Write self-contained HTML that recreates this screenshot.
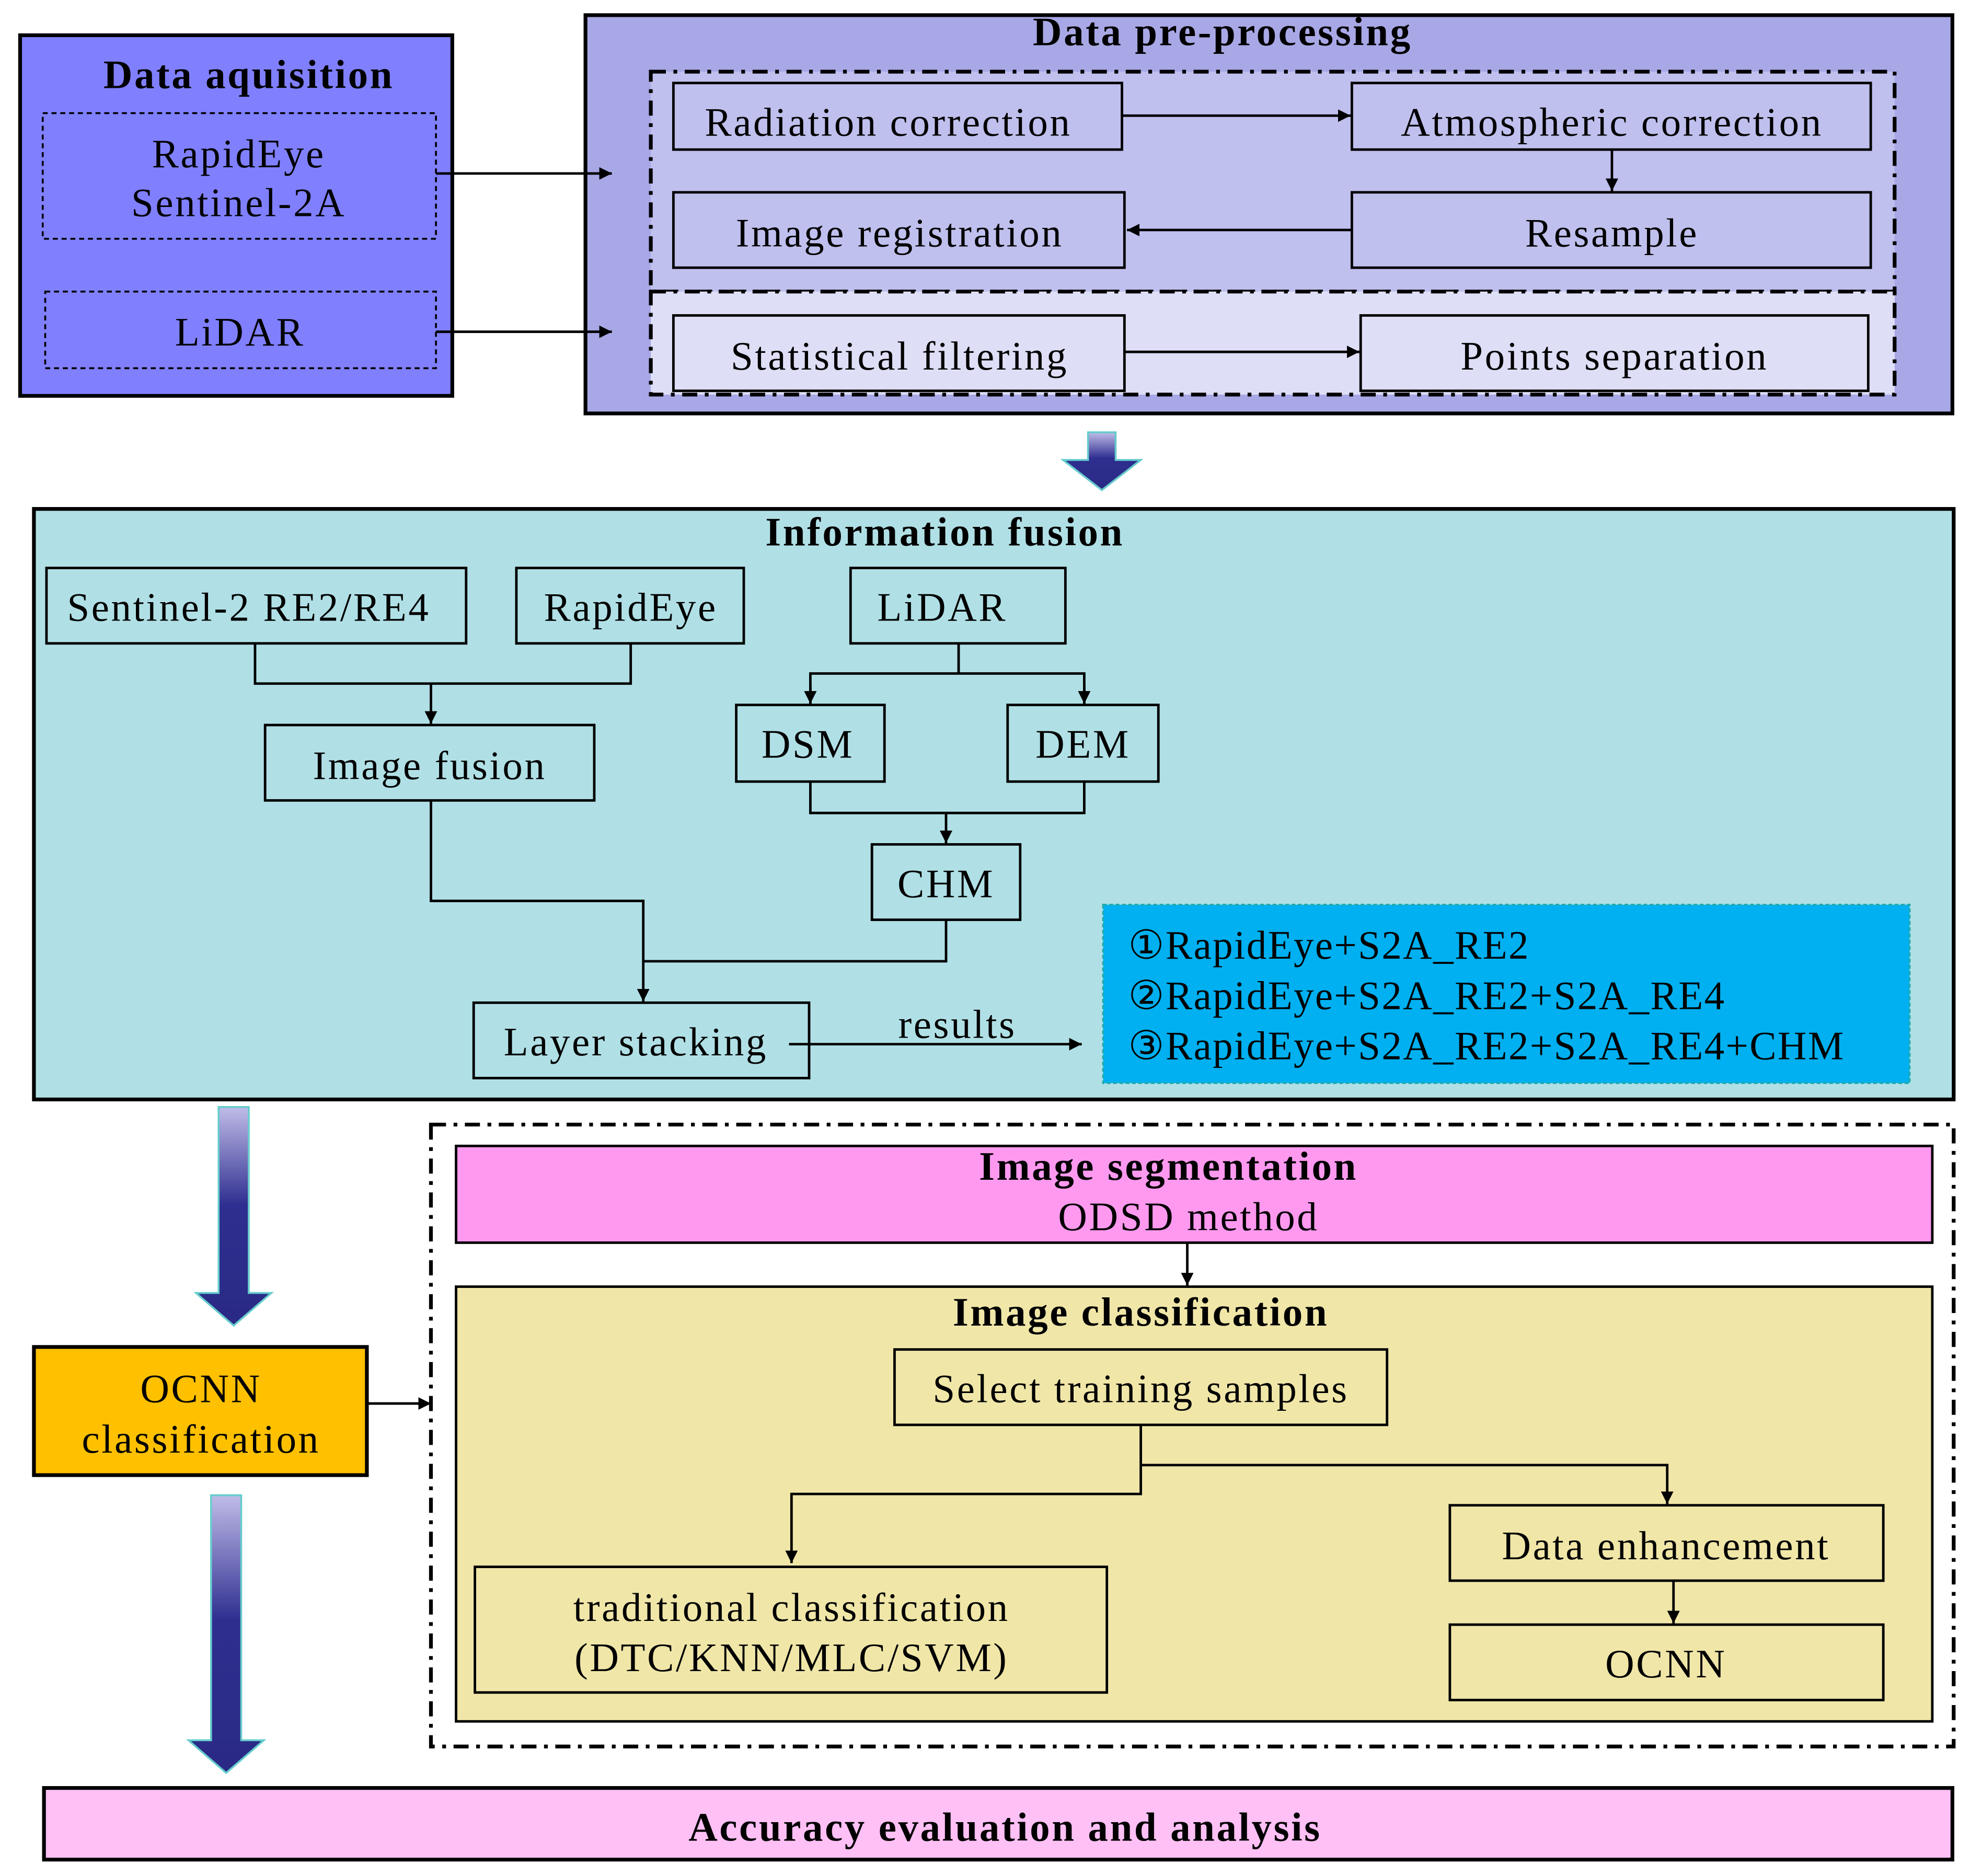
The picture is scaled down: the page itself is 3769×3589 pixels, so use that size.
<!DOCTYPE html>
<html><head><meta charset="utf-8"><style>html,body{margin:0;padding:0;background:#fff}svg{display:block}</style></head>
<body>
<svg width="3769" height="3589" viewBox="0 0 1568 1493" xmlns="http://www.w3.org/2000/svg" font-family="'Liberation Serif', serif">
<defs>
<marker id="a" viewBox="0 0 10 10" refX="10" refY="5" markerWidth="5" markerHeight="5" orient="auto"><path d="M0,0L10,5L0,10z" fill="#000"/></marker>
<linearGradient id="g" x1="0" y1="0" x2="0" y2="1"><stop offset="0" stop-color="#c0bce8"/><stop offset="0.45" stop-color="#2e2e90"/><stop offset="1" stop-color="#2a2a85"/></linearGradient>
</defs>
<g stroke="#000" stroke-width="2" fill="none">
<!-- Data acquisition -->
<rect x="16" y="28" width="344" height="287" fill="#8080ff" stroke-width="3"/>
<rect x="34" y="90" width="313" height="100" stroke-dasharray="4,3" stroke-width="1.5"/>
<rect x="36" y="232" width="311" height="61" stroke-dasharray="4,3" stroke-width="1.5"/>
<!-- Pre-processing -->
<rect x="466" y="12" width="1088" height="317" fill="#a9a8e6" stroke-width="3"/>
<rect x="518" y="57" width="990" height="175" fill="#c0c0ee" stroke-dasharray="12,6,3,6" stroke-width="3"/>
<rect x="518" y="232" width="990" height="82" fill="#dedef6" stroke-dasharray="12,6,3,6" stroke-width="3"/>
<line x1="347" y1="138" x2="487" y2="138" marker-end="url(#a)"/>
<line x1="347" y1="264" x2="487" y2="264" marker-end="url(#a)"/>
<rect x="536" y="66" width="357" height="53" fill="#c0c0ee"/>
<rect x="1076" y="66" width="413" height="53" fill="#c0c0ee"/>
<rect x="536" y="153" width="359" height="60" fill="#c0c0ee"/>
<rect x="1076" y="153" width="413" height="60" fill="#c0c0ee"/>
<rect x="536" y="251" width="359" height="60" fill="#dedef6"/>
<rect x="1083" y="251" width="404" height="60" fill="#dedef6"/>
<line x1="893" y1="92" x2="1075" y2="92" marker-end="url(#a)"/>
<line x1="1283" y1="119" x2="1283" y2="152" marker-end="url(#a)"/>
<line x1="1076" y1="183" x2="897" y2="183" marker-end="url(#a)"/>
<line x1="895" y1="280" x2="1082" y2="280" marker-end="url(#a)"/>
</g>
<path d="M866,344h22v22h20l-31,24l-31,-24h20z" fill="url(#g)" stroke="#6cc" stroke-width="1.5"/>
<g stroke="#000" stroke-width="2" fill="none">
<!-- Info fusion -->
<rect x="27" y="405" width="1528" height="470" fill="#b0e0e6" stroke-width="3"/>
<rect x="37" y="452" width="334" height="60"/>
<rect x="411" y="452" width="181" height="60"/>
<rect x="677" y="452" width="171" height="60"/>
<polyline points="203,512 203,544 502,544 502,512"/>
<line x1="343" y1="544" x2="343" y2="576" marker-end="url(#a)"/>
<rect x="211" y="577" width="262" height="60"/>
<line x1="763" y1="512" x2="763" y2="536"/>
<polyline points="645,560 645,536 863,536 863,560"/>
<line x1="645" y1="545" x2="645" y2="560" marker-end="url(#a)"/>
<line x1="863" y1="545" x2="863" y2="560" marker-end="url(#a)"/>
<rect x="586" y="561" width="118" height="61"/>
<rect x="802" y="561" width="120" height="61"/>
<polyline points="645,622 645,647 863,647 863,622"/>
<line x1="753" y1="647" x2="753" y2="671" marker-end="url(#a)"/>
<rect x="694" y="672" width="118" height="60"/>
<polyline points="343,637 343,717 512,717 512,797" marker-end="url(#a)"/>
<polyline points="753,732 753,765 512,765"/>
<rect x="377" y="798" width="267" height="60"/>
<line x1="628" y1="831" x2="861" y2="831" marker-end="url(#a)"/>
<rect x="878" y="720" width="642" height="142" fill="#00b0f0" stroke="#2aa" stroke-dasharray="3,2" stroke-width="1.5"/>
</g>
<path d="M174,881h24v148h18l-30,26l-30,-26h18z" fill="url(#g)" stroke="#6cc" stroke-width="1.5"/>
<path d="M168,1190h24v195h18l-30,26l-30,-26h18z" fill="url(#g)" stroke="#6cc" stroke-width="1.5"/>
<g stroke="#000" stroke-width="2" fill="none">
<rect x="27" y="1072" width="265" height="102" fill="#ffc000" stroke-width="3"/>
<line x1="292" y1="1117" x2="343" y2="1117" marker-end="url(#a)"/>
<rect x="343" y="895" width="1212" height="495" stroke-dasharray="12,6,3,6" stroke-width="3"/>
<rect x="363" y="912" width="1175" height="77" fill="#ff99f0"/>
<line x1="945" y1="989" x2="945" y2="1023" marker-end="url(#a)"/>
<rect x="363" y="1024" width="1175" height="346" fill="#f0e6a8"/>
<rect x="712" y="1074" width="392" height="60"/>
<polyline points="908,1134 908,1189 630,1189 630,1244" marker-end="url(#a)"/>
<polyline points="908,1166 1327,1166 1327,1197" marker-end="url(#a)"/>
<rect x="1154" y="1198" width="345" height="60"/>
<line x1="1332" y1="1258" x2="1332" y2="1292" marker-end="url(#a)"/>
<rect x="1154" y="1293" width="345" height="60"/>
<rect x="378" y="1247" width="503" height="100"/>
<rect x="35" y="1423" width="1519" height="57" fill="#ffc0f5" stroke-width="3"/>
</g>
<g font-size="32" letter-spacing="1.5" fill="#000" text-anchor="middle">
<text x="198" y="70" font-weight="bold">Data aquisition</text>
<text x="190" y="133">RapidEye</text>
<text x="190" y="172">Sentinel-2A</text>
<text x="191" y="275">LiDAR</text>
<text x="973" y="36" font-weight="bold">Data pre-processing</text>
<text x="707" y="108">Radiation correction</text>
<text x="1283" y="108">Atmospheric correction</text>
<text x="716" y="196">Image registration</text>
<text x="1283" y="196">Resample</text>
<text x="716" y="294">Statistical filtering</text>
<text x="1285" y="294">Points separation</text>
<text x="752" y="434" font-weight="bold">Information fusion</text>
<text x="198" y="494">Sentinel-2 RE2/RE4</text>
<text x="502" y="494">RapidEye</text>
<text x="750" y="494">LiDAR</text>
<text x="342" y="620">Image fusion</text>
<text x="643" y="603">DSM</text>
<text x="862" y="603">DEM</text>
<text x="753" y="714">CHM</text>
<text x="506" y="840">Layer stacking</text>
<text x="762" y="826">results</text>
<text x="160" y="1116">OCNN</text>
<text x="160" y="1156">classification</text>
<text x="930" y="939" font-weight="bold">Image segmentation</text>
<text x="946" y="979">ODSD method</text>
<text x="908" y="1055" font-weight="bold">Image classification</text>
<text x="908" y="1116">Select training samples</text>
<text x="1326" y="1241">Data enhancement</text>
<text x="1326" y="1335">OCNN</text>
<text x="630" y="1290">traditional classification</text>
<text x="630" y="1330">(DTC/KNN/MLC/SVM)</text>
<text x="800" y="1465" font-weight="bold">Accuracy evaluation and analysis</text>
</g>
<g font-size="32" letter-spacing="1" fill="#000" font-family="'Liberation Serif','DejaVu Sans',serif">
<text x="898" y="763">①RapidEye+S2A_RE2</text>
<text x="898" y="803">②RapidEye+S2A_RE2+S2A_RE4</text>
<text x="898" y="843">③RapidEye+S2A_RE2+S2A_RE4+CHM</text>
</g>
</svg>
</body></html>
